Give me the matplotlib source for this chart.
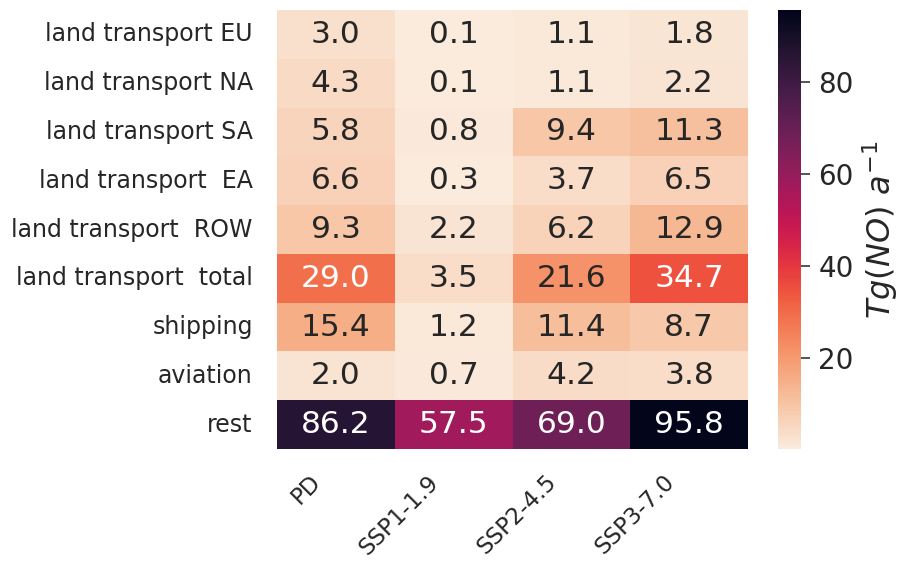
import matplotlib
matplotlib.use("Agg")
import matplotlib.pyplot as plt
import matplotlib.transforms as mtransforms
import numpy as np
import pandas as pd
import seaborn as sns

sectors = ["land transport EU", "land transport NA", "land transport SA",
           "land transport  EA", "land transport  ROW", "land transport  total",
           "shipping", "aviation", "rest"]
scenarios = ["PD", "SSP1-1.9", "SSP2-4.5", "SSP3-7.0"]
pd_vals = [3.0, 4.3, 5.8, 6.6, 9.3, 29.0, 15.4, 2.0, 86.2]
ssp119 = [0.1, 0.1, 0.8, 0.3, 2.2, 3.5, 1.2, 0.7, 57.5]
ssp245 = [1.1, 1.1, 9.4, 3.7, 6.2, 21.6, 11.4, 4.2, 69.0]
ssp370 = [1.8, 2.2, 11.3, 6.5, 12.9, 34.7, 8.7, 3.8, 95.8]

df = pd.DataFrame({"PD": pd_vals, "SSP1-1.9": ssp119,
                   "SSP2-4.5": ssp245, "SSP3-7.0": ssp370}, index=sectors)

sns.set_theme()
fig = plt.figure(figsize=(9.01, 5.61), dpi=100)
ax = fig.add_axes([277/901, 1-449/561, (748-277)/901, (449-10)/561])
cax = fig.add_axes([778/901, 1-449/561, (801-778)/901, (449-10)/561])

sns.heatmap(df, ax=ax, cbar_ax=cax, cmap="rocket_r", annot=True, fmt=".1f",
            annot_kws={"fontsize": 22.5})
ax.tick_params(axis="y", labelsize=17, rotation=0, pad=11.5)
ax.tick_params(axis="x", labelsize=16.5, pad=9.5)
offset = mtransforms.ScaledTranslation(-10/100, 0, fig.dpi_scale_trans)
for lab in ax.get_xticklabels():
    lab.set_rotation(45)
    lab.set_ha("right")
    lab.set_rotation_mode("default")
    lab.set_transform(lab.get_transform() + offset)
cax.tick_params(labelsize=20, right=True, length=6.5, width=1.1,
                color="#262626", pad=6)
cax.set_ylabel(r"$Tg(NO)\ a^{-1}$", fontsize=23, labelpad=5)

fig.savefig("out.png", dpi=100)
